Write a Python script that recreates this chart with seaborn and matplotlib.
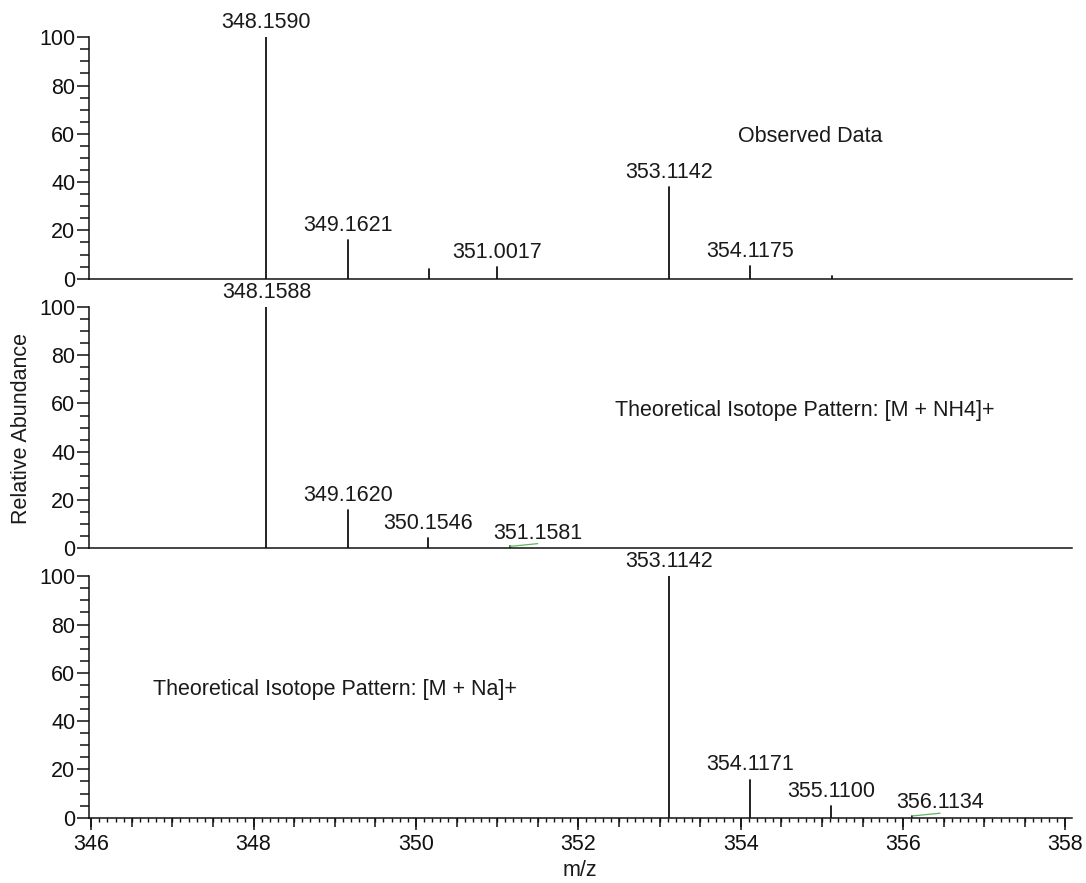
import numpy as np
import pandas as pd
import matplotlib
matplotlib.use("Agg")
import matplotlib.pyplot as plt
import seaborn as sns
from matplotlib.ticker import MultipleLocator, FixedLocator

# ---------------- data ----------------
obs_mz = [348.1590, 349.1621, 350.1550, 351.0017, 353.1142, 354.1175, 355.1200]
obs_int = [100.0, 16.0, 4.2, 4.7, 37.8, 5.3, 1.2]
obs_labels = ["348.1590", "349.1621", "", "351.0017", "353.1142", "354.1175", ""]

nh4_mz = [348.1588, 349.1620, 350.1546, 351.1581]
nh4_int = [100.0, 15.8, 4.4, 0.8]
nh4_labels = ["348.1588", "349.1620", "350.1546", "351.1581"]

na_mz = [353.1142, 354.1171, 355.1100, 356.1134]
na_int = [100.0, 15.8, 4.8, 0.7]
na_labels = ["353.1142", "354.1171", "355.1100", "356.1134"]

panel_titles = ["Observed Data",
                "Theoretical Isotope Pattern: [M + NH4]+",
                "Theoretical Isotope Pattern: [M + Na]+"]
x_ticks = [346, 348, 350, 352, 354, 356, 358]
y_ticks = [0, 20, 40, 60, 80, 100]
x_label = "m/z"
y_label = "Relative Abundance"

# ---------------- style ----------------
sns.set_theme(style="ticks")
plt.rcParams["font.family"] = ["Liberation Sans", "DejaVu Sans"]
plt.rcParams["axes.edgecolor"] = "#111111"
plt.rcParams["xtick.color"] = "#111111"
plt.rcParams["ytick.color"] = "#111111"
plt.rcParams["text.color"] = "#1a1a1a"

FS = 15.5
INK = "#111111"
LEADER = "#5cb85c"

fig = plt.figure(figsize=(10.86, 8.83), dpi=100)
left, width, height = 0.0817, 0.9054, 0.2734
bottoms = [0.6844, 0.3790, 0.0740]

panels = [(obs_mz, obs_int, obs_labels),
          (nh4_mz, nh4_int, nh4_labels),
          (na_mz, na_int, na_labels)]
title_pos = [(353.97, 58.7), (352.45, 57.2), (346.76, 53.0)]

axes = []
for i, ((mz, inten, labs), b) in enumerate(zip(panels, bottoms)):
    ax = fig.add_axes([left, b, width, height])
    axes.append(ax)
    n = len(mz)
    df = pd.DataFrame({
        "mz": np.repeat(mz, 2),
        "intensity": np.ravel(np.column_stack([np.zeros(n), inten])),
        "peak": np.repeat(np.arange(n), 2),
    })
    sns.lineplot(data=df, x="mz", y="intensity", units="peak", estimator=None,
                 sort=False, color=INK, lw=1.3, ax=ax, legend=False)
    ax.set_xlim(345.97, 358.08)
    ax.set_ylim(0, 100)
    ax.set_xlabel("")
    ax.set_ylabel("")
    sns.despine(ax=ax, top=True, right=True)
    for s in ("left", "bottom"):
        ax.spines[s].set_linewidth(1.1)
        ax.spines[s].set_color(INK)

    ax.yaxis.set_major_locator(FixedLocator(y_ticks))
    ax.yaxis.set_minor_locator(MultipleLocator(5))
    ax.tick_params(axis="y", which="major", length=8.6, width=1.1,
                   labelsize=FS, pad=1, direction="out")
    ax.tick_params(axis="y", which="minor", length=6.5, width=1.1, direction="out")

    if i < 2:
        ax.tick_params(axis="x", which="both", bottom=False, labelbottom=False)
    else:
        ax.xaxis.set_major_locator(FixedLocator(x_ticks))
        ax.xaxis.set_minor_locator(MultipleLocator(0.1))
        ax.tick_params(axis="x", which="major", length=8.6, width=1.1,
                       labelsize=FS, pad=3, direction="out")
        ax.tick_params(axis="x", which="minor", length=3.0, width=1.0, direction="out")
        sec = ax.secondary_xaxis("bottom")
        sec.xaxis.set_major_locator(MultipleLocator(0.5))
        sec.tick_params(axis="x", length=6.5, width=1.1, labelbottom=False,
                        direction="out", color=INK)
        for sp in sec.spines.values():
            sp.set_visible(False)

    # peak labels
    for x, y, lab in zip(mz, inten, labs):
        if not lab:
            continue
        if y < 2:
            ax.annotate(lab, xy=(x, y), xytext=(20, 2), textcoords="offset points",
                        ha="center", va="bottom", fontsize=FS, annotation_clip=False,
                        arrowprops=dict(arrowstyle="-", color=LEADER, lw=0.9,
                                        relpos=(0.5, 0.0), shrinkA=0, shrinkB=0))
        else:
            ax.annotate(lab, xy=(x, y), xytext=(0, 3), textcoords="offset points",
                        ha="center", va="bottom", fontsize=FS, annotation_clip=False)

    tx, ty = title_pos[i]
    ax.text(tx, ty, panel_titles[i], ha="left", va="center", fontsize=FS)

fig.text(22 / 1086, 1 - 428 / 883, y_label, rotation=90, ha="center", va="center",
         fontsize=FS)
fig.text(580 / 1086, 1 - 871 / 883, x_label, ha="center", va="center", fontsize=FS)

fig.savefig("out.png", dpi=100, facecolor="white")
